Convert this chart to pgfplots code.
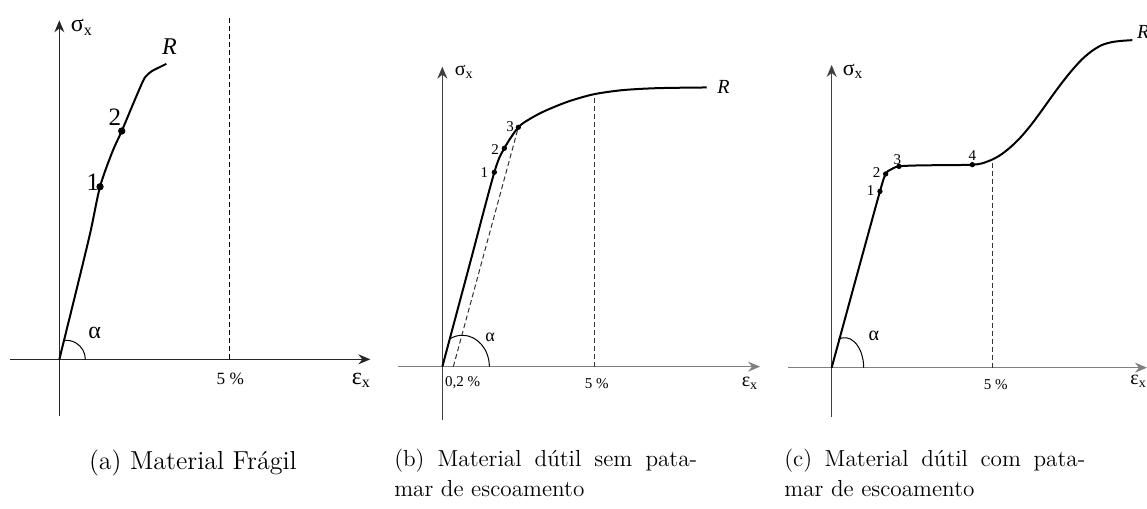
\documentclass[border=0pt]{standalone}
\usepackage{fontspec}
\usepackage{pgfplots}
\pgfplotsset{compat=1.18}
\usetikzlibrary{arrows.meta}
\newfontfamily\tf{Liberation Serif}
\newcommand\lab[1]{\fontsize{#1}{#1}\selectfont\tf}

% stress-strain sketches: one axis unit = 0.5pt, origin at (0,0)
\pgfplotsset{
  sketch/.style={
    x=0.5pt, y=0.5pt, anchor=origin,
    axis lines=middle, enlargelimits=false, clip=false,
    xtick=\empty, ytick=\empty,
    axis line style={line width=0.6pt},
    inner axis line style={-{Stealth[length=6pt,width=5pt,inset=2pt]}},
  },
  curve/.style={black, line width=1pt, smooth, tension=0.5, mark=none},
  guide/.style={black, line width=0.5pt, dash pattern=on 2.5pt off 1.5pt, mark=none},
}

\begin{document}
\begin{tikzpicture}

% (a) brittle material
\begin{axis}[sketch, at={(29.67pt,74.83pt)},
  xmin=-49.7, xmax=311, ymin=-56.7, ymax=339,
  x axis line style={black!85}, y axis line style={black!85}]
  \addplot[guide] coordinates {(170,0) (170,341.7)};
  \addplot[curve] coordinates {
    (0,0) (18,73) (31,127) (40.7,172.6) (52.7,206.7) (62.4,228.3)
    (74.3,256.7) (84,279) (88,284.5) (93,288.5) (100,292) (107,295.5)};
  \addplot[only marks, mark=*, mark size=1.6pt, black] coordinates {(40.7,172.6) (62.4,228.3)};
  \draw[line width=0.5pt] (axis cs:26,0) arc[start angle=0, end angle=97, radius=9.5pt];
  \node[font=\lab{12.5}] at (axis cs:33.5,177) {1};
  \node[font=\lab{12.5}] at (axis cs:55.5,242) {2};
  \node[font=\lab{12}\itshape] at (axis cs:110,312.5) {R};
  \node[font=\lab{12}] at (axis cs:22.5,332) {σ\textsubscript{x}};
  \node[font=\lab{12}] at (axis cs:35.3,26.7) {α};
  \node[font=\lab{8.6}] at (axis cs:171,-20) {5 \%};
  \node[font=\lab{12}] at (axis cs:302,-21) {ε\textsubscript{x}};
\end{axis}

% (b) ductile material without yield plateau
\begin{axis}[sketch, at={(221.17pt,71.17pt)},
  xmin=-44, xmax=317.7, ymin=-53.3, ymax=300,
  x axis line style={black!50}, y axis line style={black!75}]
  \addplot[guide, black!80] coordinates {(11,0) (76,239.4)};
  \addplot[guide, black!80] coordinates {(152,0) (152,272.5)};
  \addplot[curve] coordinates {
    (0,0) (26,97.2) (52,194.4) (62,218.4) (76,239.4) (88,248) (100,254.5)
    (115,261) (130,266.5) (152,272.5) (180,276.5) (215,278.5) (264.4,279.2)};
  \addplot[only marks, mark=*, mark size=1.1pt, black] coordinates {(52,194.4) (62,218.4) (76,239.4)};
  \draw[line width=0.5pt] (axis cs:47,0) arc[start angle=0, end angle=118, x radius=13.5pt, y radius=15.7pt];
  \node[font=\lab{7.5}] at (axis cs:42,194) {1};
  \node[font=\lab{7.5}] at (axis cs:52.7,216.7) {2};
  \node[font=\lab{7.5}] at (axis cs:67.7,240) {3};
  \node[font=\lab{10}\itshape, anchor=west] at (axis cs:268,280) {R};
  \node[font=\lab{10}] at (axis cs:22,295) {σ\textsubscript{x}};
  \node[font=\lab{9}] at (axis cs:47.7,29) {α};
  \node[font=\lab{7.5}] at (axis cs:20.4,-15.6) {0,2 \%};
  \node[font=\lab{7.5}] at (axis cs:154.4,-17.3) {5 \%};
  \node[font=\lab{10}] at (axis cs:307.7,-16.6) {ε\textsubscript{x}};
\end{axis}

% (c) ductile material with yield plateau
\begin{axis}[sketch, at={(415.83pt,70.67pt)},
  xmin=-43.7, xmax=315.3, ymin=-49.3, ymax=302.7,
  x axis line style={black!50}, y axis line style={black!75}]
  \addplot[guide, black!80] coordinates {(161,0) (161,208.3)};
  \addplot[curve] coordinates {
    (0,0) (24,88) (48.3,176.3) (54,193.7) (59,198) (67.3,201.3) (90,202.3)
    (120,202.5) (140.7,203) (150,204.2) (161,208.3) (170,213.5) (180,221.5)
    (190,231.5) (200,243.5) (210,257) (220,271) (230,284.5) (240,297)
    (250,308) (260,316.5) (270,322.5) (280,325.5) (290,326.8) (300.7,327.5)};
  \addplot[only marks, mark=*, mark size=1.1pt, black] coordinates {(48.3,176.3) (54,193.7) (67.3,201.3) (140.7,203)};
  \draw[line width=0.5pt] (axis cs:32,0) arc[start angle=0, end angle=110, x radius=9.5pt, y radius=15pt];
  \node[font=\lab{7.5}] at (axis cs:39,177) {1};
  \node[font=\lab{7.5}] at (axis cs:45,195.3) {2};
  \node[font=\lab{7.5}] at (axis cs:65.7,208) {3};
  \node[font=\lab{7.5}] at (axis cs:140.7,212) {4};
  \node[font=\lab{10}\itshape, anchor=west, inner sep=0pt] at (axis cs:305,336) {R};
  \node[font=\lab{11}] at (axis cs:21.5,296) {σ\textsubscript{x}};
  \node[font=\lab{10}] at (axis cs:42.3,31.3) {α};
  \node[font=\lab{7.5}] at (axis cs:164,-17) {5 \%};
  \node[font=\lab{10}] at (axis cs:307,-14) {ε\textsubscript{x}};
\end{axis}

% captions
\node[anchor=base west, font=\fontsize{13}{15}\selectfont] at (41pt,19.5pt) {(a) Material Frágil};
\node[anchor=base west, font=\fontsize{11.6}{14}\selectfont] at (193.6pt,21.2pt)
  {\makebox[151.5pt][s]{(b) Material dútil sem pata-}};
\node[anchor=base west, font=\fontsize{11.6}{14}\selectfont] at (193.6pt,6.15pt) {mar de escoamento};
\node[anchor=base west, font=\fontsize{11.6}{14}\selectfont] at (388.65pt,21.2pt)
  {\makebox[150.5pt][s]{(c) Material dútil com pata-}};
\node[anchor=base west, font=\fontsize{11.6}{14}\selectfont] at (388.65pt,6.15pt) {mar de escoamento};

\pgfresetboundingbox
\useasboundingbox (0,0) rectangle (573.5pt,254.5pt);
\end{tikzpicture}
\end{document}
